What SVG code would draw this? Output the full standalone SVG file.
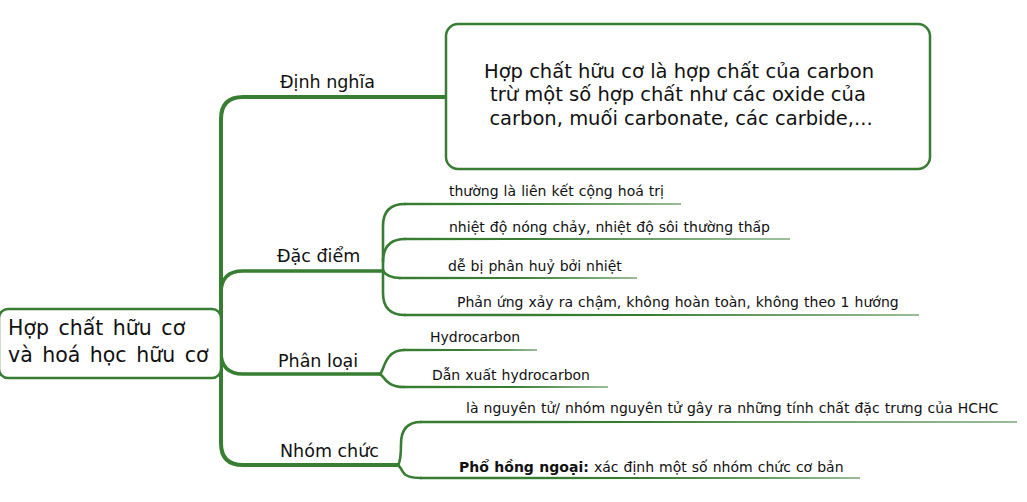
<svg xmlns="http://www.w3.org/2000/svg" width="1027" height="502" viewBox="0 0 1027 502">
<style>
text{font-family:"DejaVu Sans","Liberation Sans",sans-serif;fill:#111}
.root{font-size:20.5px;word-spacing:3px}
.def{font-size:19.5px}
.br{font-size:17.5px}
.sub{font-size:14px;word-spacing:0.6px}
.box{fill:#fff;stroke:#377d32;stroke-width:2.5}
.c{fill:none;stroke:#377d32;stroke-linecap:round;stroke-linejoin:round}
.trunk{stroke-width:4}
.b{stroke-width:3.5}
.s{stroke-width:2.6}
.t{fill:#377d32}
</style>
<rect width="1027" height="502" fill="#fff"/>
<g id="connectors">
<path class="c trunk" d="M447 97 L243 97 Q221 97 221 119 L221 443 Q221 465 243 465 L398 465"/>
<path class="c b" d="M221 293 Q221 271 243 271 L383 271"/>
<path class="c b" d="M221 352 Q221 374 243 374 L380 374"/>
<path class="c s" d="M383 271 L383 226 Q383 204 405 204"/>
<path class="c s" d="M383 262 Q383 239 405 239"/>
<path class="c s" d="M383 271 Q388 278 400 278"/>
<path class="c s" d="M383 271 L383 293 Q383 315 405 315"/>
<polygon class="t" points="404,202.7 681,203.5 681,204.5 404,205.3"/>
<polygon class="t" points="404,237.7 790,238.5 790,239.5 404,240.3"/>
<polygon class="t" points="399,276.7 637,277.5 637,278.5 399,279.3"/>
<polygon class="t" points="404,313.7 919,314.5 919,315.5 404,316.3"/>
<path class="c s" d="M380 374 C384 372 384 350 404 350"/>
<path class="c s" d="M380 374 C384 376 386 387 404 387"/>
<polygon class="t" points="403,348.7 537,349.5 537,350.5 403,351.3"/>
<polygon class="t" points="403,385.7 608,386.5 608,387.5 403,388.3"/>
<path class="c s" d="M398 465 Q401 461 401 444 Q401 422 421 422"/>
<path class="c s" d="M398 465 Q401 468 403 472 Q406 478 421 478"/>
<polygon class="t" points="420,420.7 1017,421.5 1017,422.5 420,423.3"/>
<polygon class="t" points="420,476.7 860,477.5 860,478.5 420,479.3"/>
</g>
<g id="root">
<rect class="box" x="-1" y="309" width="222" height="69" rx="9"/>
<text class="root" x="8" y="335">Hợp chất hữu cơ</text>
<text class="root" x="8" y="362">và hoá học hữu cơ</text>
</g>
<g id="dinh-nghia">
<text class="br" x="280" y="88">Định nghĩa</text>
</g>
<g id="dinh-nghia-content">
<rect class="box" x="446" y="24" width="484" height="145" rx="12"/>
<text class="def" x="679" y="78" text-anchor="middle">Hợp chất hữu cơ là hợp chất của carbon</text>
<text class="def" x="678" y="101" text-anchor="middle">trừ một số hợp chất như các oxide của</text>
<text class="def" x="681" y="125" text-anchor="middle">carbon, muối carbonate, các carbide,...</text>
</g>
<g id="dac-diem">
<text class="br" x="277" y="262">Đặc điểm</text>
</g>
<g id="dd1"><text class="sub" x="449" y="196">thường là liên kết cộng hoá trị</text></g>
<g id="dd2"><text class="sub" x="449" y="232">nhiệt độ nóng chảy, nhiệt độ sôi thường thấp</text></g>
<g id="dd3"><text class="sub" x="448" y="271">dễ bị phân huỷ bởi nhiệt</text></g>
<g id="dd4"><text class="sub" x="457" y="307">Phản ứng xảy ra chậm, không hoàn toàn, không theo 1 hướng</text></g>
<g id="phan-loai">
<text class="br" x="278" y="367">Phân loại</text>
</g>
<g id="pl1"><text class="sub" x="430" y="342">Hydrocarbon</text></g>
<g id="pl2"><text class="sub" x="432" y="380">Dẫn xuất hydrocarbon</text></g>
<g id="nhom-chuc">
<text class="br" x="280" y="457">Nhóm chức</text>
</g>
<g id="nc1"><text class="sub" x="466" y="413">là nguyên tử/ nhóm nguyên tử gây ra những tính chất đặc trưng của HCHC</text></g>
<g id="nc2"><text class="sub" x="459" y="472"><tspan font-weight="bold">Phổ hồng ngoại:</tspan> xác định một số nhóm chức cơ bản</text></g>
</svg>
